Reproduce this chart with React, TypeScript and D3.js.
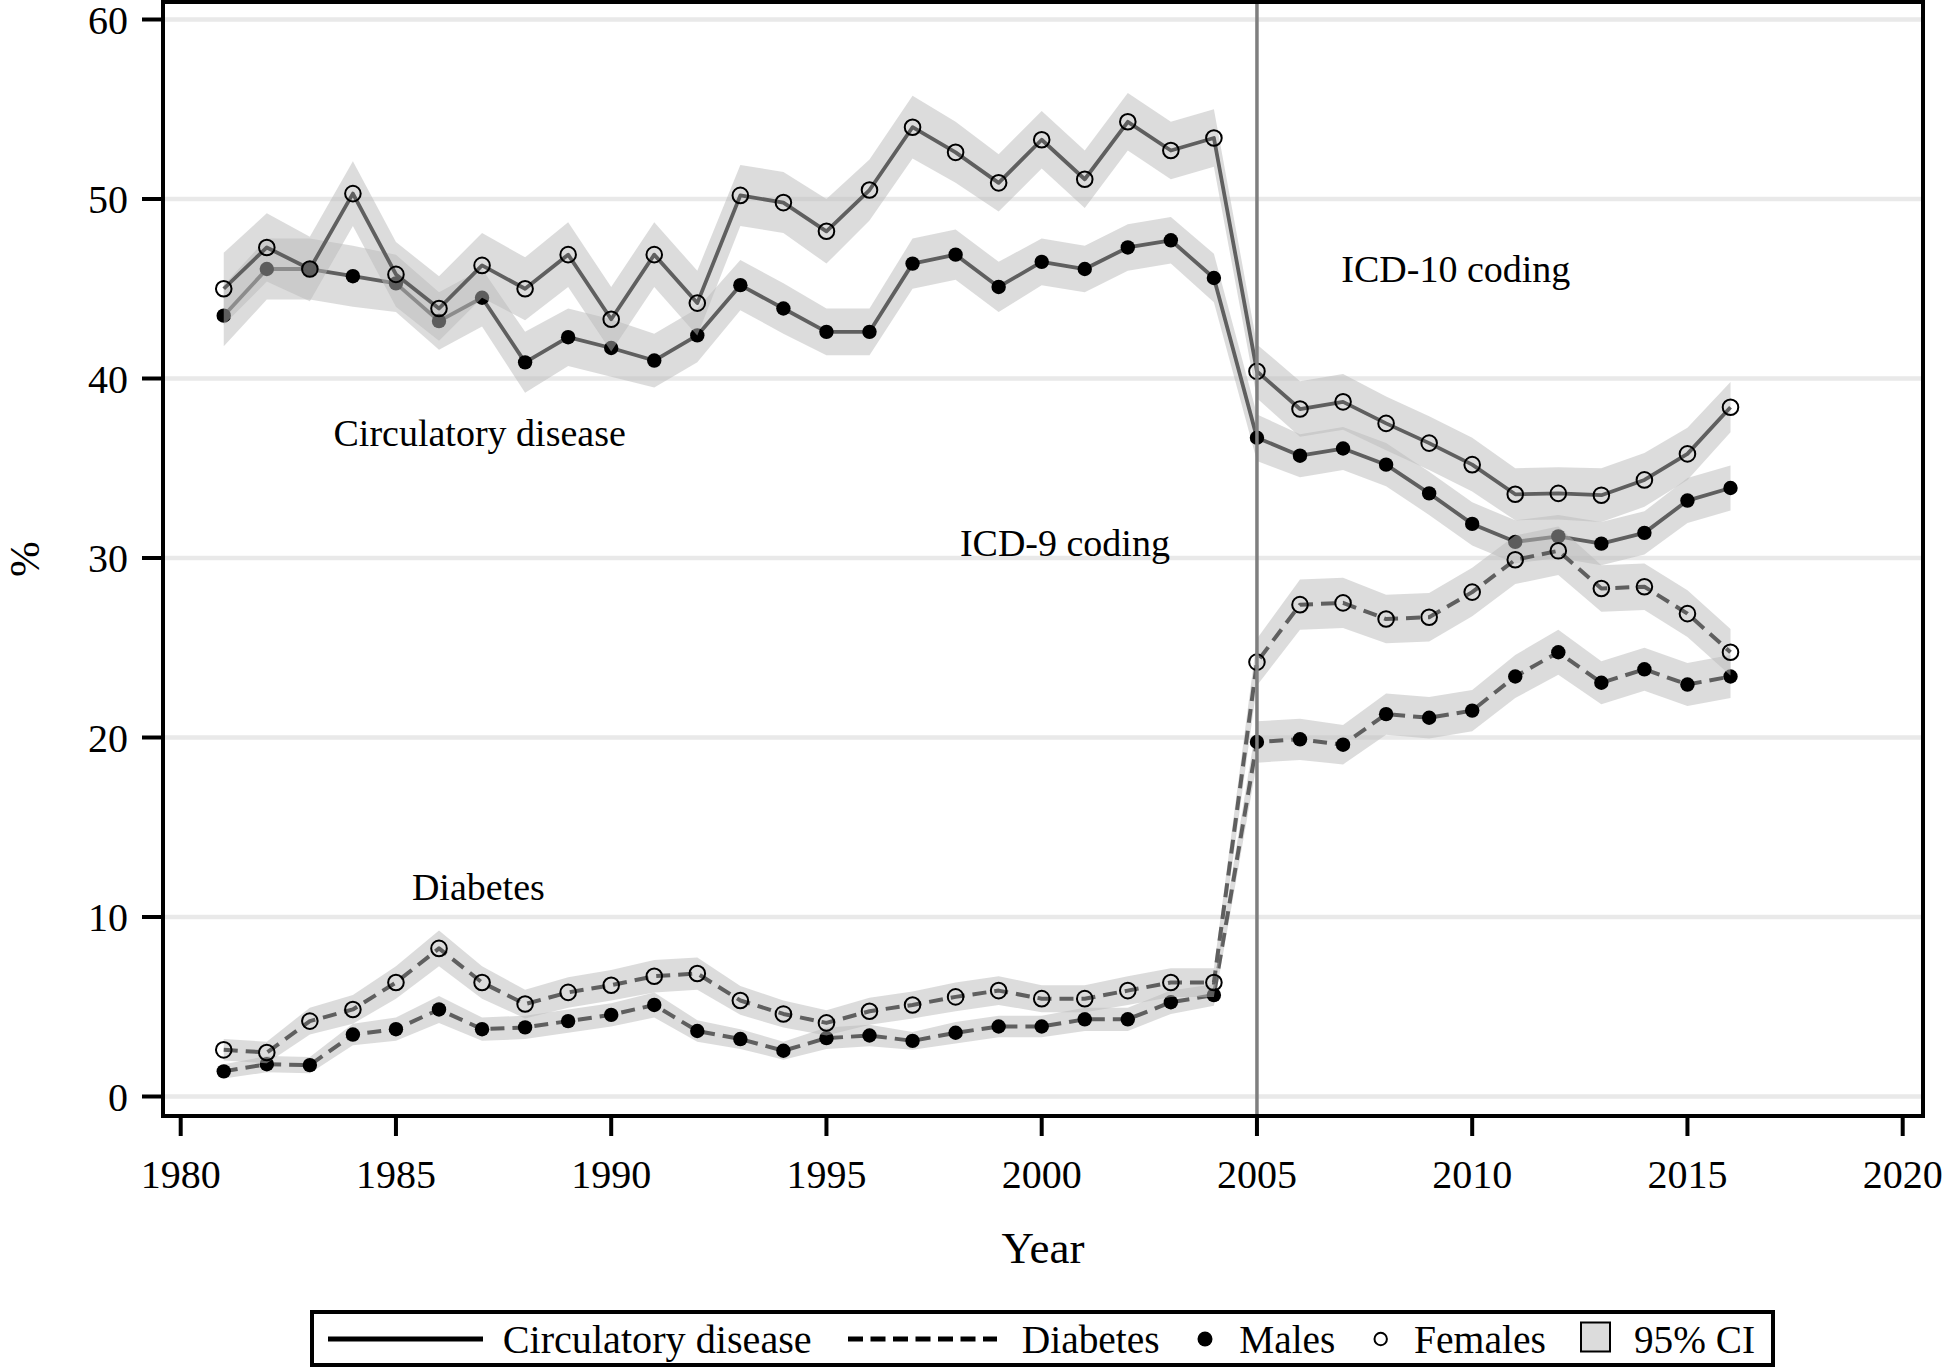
import React from "react";
import * as d3 from "d3";

const years = d3.range(1981, 2017);

const circM = [43.5, 46.1, 46.1, 45.7, 45.3, 43.2, 44.5, 40.9, 42.3, 41.7, 41.0, 42.4, 45.2, 43.9, 42.6, 42.6, 46.4, 46.9, 45.1, 46.5, 46.1, 47.3, 47.7, 45.6, 36.7, 35.7, 36.1, 35.2, 33.6, 31.9, 30.9, 31.2, 30.8, 31.4, 33.2, 33.9];
const circF = [45.0, 47.3, 46.1, 50.3, 45.8, 43.9, 46.3, 45.0, 46.9, 43.3, 46.9, 44.2, 50.2, 49.8, 48.2, 50.5, 54.0, 52.6, 50.9, 53.3, 51.1, 54.3, 52.7, 53.4, 40.4, 38.3, 38.7, 37.5, 36.4, 35.2, 33.55, 33.6, 33.5, 34.35, 35.8, 38.4];
const diabM = [1.4, 1.8, 1.75, 3.45, 3.75, 4.85, 3.75, 3.85, 4.2, 4.55, 5.1, 3.65, 3.2, 2.55, 3.25, 3.4, 3.1, 3.55, 3.9, 3.9, 4.3, 4.3, 5.25, 5.65, 19.75, 19.9, 19.6, 21.3, 21.1, 21.5, 23.4, 24.75, 23.05, 23.8, 22.95, 23.4];
const diabF = [2.6, 2.45, 4.2, 4.85, 6.35, 8.25, 6.35, 5.15, 5.8, 6.2, 6.7, 6.85, 5.35, 4.6, 4.1, 4.75, 5.1, 5.55, 5.9, 5.45, 5.45, 5.9, 6.35, 6.35, 24.2, 27.4, 27.5, 26.6, 26.7, 28.1, 29.9, 30.4, 28.3, 28.4, 26.9, 24.75];

// 95% CI half-widths
const ciCircM = [1.7, 1.7, 1.7, 1.7, 1.6, 1.6, 1.6, 1.7, 1.6, 1.6, 1.5, 1.5, 1.4, 1.4, 1.3, 1.3, 1.4, 1.4, 1.4, 1.3, 1.3, 1.3, 1.3, 1.35, 1.3, 1.2, 1.2, 1.2, 1.2, 1.2, 1.2, 1.2, 1.2, 1.2, 1.25, 1.25];
const ciCircF = [2.0, 1.9, 1.8, 1.8, 1.8, 1.8, 1.8, 1.75, 1.8, 1.8, 1.8, 1.8, 1.7, 1.7, 1.8, 1.7, 1.75, 1.7, 1.6, 1.6, 1.6, 1.6, 1.6, 1.6, 1.5, 1.55, 1.55, 1.5, 1.5, 1.5, 1.45, 1.45, 1.5, 1.5, 1.45, 1.4];
const ciDiabM = [0.4, 0.45, 0.45, 0.6, 0.65, 0.75, 0.65, 0.65, 0.65, 0.65, 0.7, 0.6, 0.55, 0.5, 0.6, 0.6, 0.5, 0.6, 0.6, 0.6, 0.65, 0.65, 0.65, 0.6, 1.15, 1.15, 1.1, 1.15, 1.15, 1.15, 1.2, 1.25, 1.2, 1.2, 1.2, 1.2];
const ciDiabF = [0.6, 0.6, 0.75, 0.8, 0.9, 1.0, 0.9, 0.8, 0.85, 0.85, 0.9, 0.9, 0.8, 0.75, 0.7, 0.75, 0.75, 0.8, 0.8, 0.75, 0.75, 0.8, 0.8, 0.8, 1.3, 1.4, 1.4, 1.35, 1.35, 1.35, 1.35, 1.35, 1.3, 1.3, 1.3, 1.3];

const xTicks = [1980, 1985, 1990, 1995, 2000, 2005, 2010, 2015, 2020];
const yTicks = [0, 10, 20, 30, 40, 50, 60];
const refYear = 2005;

const annotations = [
  { text: "Circulatory disease", x: 1983.55, y: 36.24 },
  { text: "Diabetes", x: 1985.37, y: 10.95 },
  { text: "ICD-9 coding", x: 1998.1, y: 30.1 },
  { text: "ICD-10 coding", x: 2006.96, y: 45.4 },
];

const legendItems = ["Circulatory disease", "Diabetes", "Males", "Females", "95% CI"];

const FONT = "'Liberation Serif', 'Times New Roman', Times, serif";
const LINE_COLOR = "#5f5f5f";

const x = d3.scaleLinear().domain([1980, 2020]).range([180.7, 1902.7]);
const y = d3.scaleLinear().domain([0, 60]).range([1096.5, 19.5]);

type Pt = { year: number; v: number; ci: number };

function build(vals: number[], ci: number[]): Pt[] {
  return years.map((yr, i) => ({ year: yr, v: vals[i], ci: ci[i] }));
}

function Series({ vals, ci, dashed, female }: { vals: number[]; ci: number[]; dashed: boolean; female: boolean }) {
  const pts = build(vals, ci);
  const area = d3
    .area<Pt>()
    .x((d) => x(d.year))
    .y0((d) => y(d.v - d.ci))
    .y1((d) => y(d.v + d.ci));
  const line = d3
    .line<Pt>()
    .x((d) => x(d.year))
    .y((d) => y(d.v));
  return (
    <g>
      <path d={area(pts) || ""} fill="#b9b9b9" fillOpacity={0.5} stroke="none" />
      <path
        d={line(pts) || ""}
        fill="none"
        stroke={LINE_COLOR}
        strokeWidth={dashed ? 4 : 3.8}
        strokeDasharray={dashed ? "14 8" : undefined}
        strokeLinejoin="round"
      />
      {pts.map((d) =>
        female ? (
          <circle key={d.year} cx={x(d.year)} cy={y(d.v)} r={7.8} fill="none" stroke="#000" strokeWidth={2} />
        ) : (
          <circle key={d.year} cx={x(d.year)} cy={y(d.v)} r={7.2} fill="#000" />
        )
      )}
    </g>
  );
}

export default function App() {
  const left = 163;
  const right = 1923;
  const top = 2;
  const bottom = 1116;
  return (
    <svg
      width={1943}
      height={1368}
      viewBox="0 0 1943 1368"
      style={{ position: "absolute", left: 0, top: 0, background: "#fff" }}
      fontFamily={FONT}
    >
      <rect x={0} y={0} width={1943} height={1368} fill="#fff" />
      {/* grid */}
      {yTicks.map((t) => (
        <line key={t} x1={left + 2} x2={right - 2} y1={y(t)} y2={y(t)} stroke="#e9e9e9" strokeWidth={4.5} />
      ))}

      {/* series */}
      <Series vals={circM} ci={ciCircM} dashed={false} female={false} />
      <Series vals={circF} ci={ciCircF} dashed={false} female={true} />
      <Series vals={diabM} ci={ciDiabM} dashed={true} female={false} />
      <Series vals={diabF} ci={ciDiabF} dashed={true} female={true} />

      {/* reference line */}
      <line x1={x(refYear)} x2={x(refYear)} y1={top + 2} y2={bottom} stroke="#7f7f7f" strokeWidth={3.5} />

      {/* annotations */}
      {annotations.map((a) => (
        <text key={a.text} x={x(a.x)} y={y(a.y)} fontSize={38} fill="#000">
          {a.text}
        </text>
      ))}

      {/* frame */}
      <rect x={left} y={top} width={right - left} height={bottom - top} fill="none" stroke="#000" strokeWidth={4} />

      {/* x ticks */}
      {xTicks.map((t) => (
        <g key={t}>
          <line x1={x(t)} x2={x(t)} y1={bottom} y2={1136} stroke="#000" strokeWidth={4} />
          <text x={x(t)} y={1188} fontSize={40} textAnchor="middle" fill="#000">
            {t}
          </text>
        </g>
      ))}
      {/* y ticks */}
      {yTicks.map((t) => (
        <g key={t}>
          <line x1={142} x2={left} y1={y(t)} y2={y(t)} stroke="#000" strokeWidth={4} />
          <text x={128} y={y(t) + 14} fontSize={40} textAnchor="end" fill="#000">
            {t}
          </text>
        </g>
      ))}

      {/* axis titles */}
      <text x={1043} y={1263} fontSize={45} textAnchor="middle" fill="#000">
        Year
      </text>
      <text transform="translate(39,559) rotate(-90)" fontSize={43} textAnchor="middle" fill="#000">
        %
      </text>

      {/* legend */}
      <g>
        <rect x={312} y={1312} width={1461} height={53} fill="#fff" stroke="#000" strokeWidth={4} />
        <line x1={328} x2={483} y1={1339} y2={1339} stroke="#000" strokeWidth={5} />
        <text x={502.7} y={1353} fontSize={41} textLength={309} lengthAdjust="spacingAndGlyphs">
          {legendItems[0]}
        </text>
        <line x1={848} x2={997} y1={1339} y2={1339} stroke="#000" strokeWidth={5} strokeDasharray="15 7.5" />
        <text x={1021.7} y={1353} fontSize={41} textLength={138} lengthAdjust="spacingAndGlyphs">
          {legendItems[1]}
        </text>
        <circle cx={1205} cy={1339} r={7.5} fill="#000" />
        <text x={1239.3} y={1353} fontSize={41} textLength={96} lengthAdjust="spacingAndGlyphs">
          {legendItems[2]}
        </text>
        <circle cx={1380.7} cy={1339} r={6.2} fill="none" stroke="#000" strokeWidth={2} />
        <text x={1414} y={1353} fontSize={41} textLength={132} lengthAdjust="spacingAndGlyphs">
          {legendItems[3]}
        </text>
        <rect x={1581} y={1322.5} width={29} height={29} fill="#dcdcdc" stroke="#000" strokeWidth={2} />
        <text x={1634} y={1353} fontSize={41} textLength={121} lengthAdjust="spacingAndGlyphs">
          {legendItems[4]}
        </text>
      </g>
    </svg>
  );
}
